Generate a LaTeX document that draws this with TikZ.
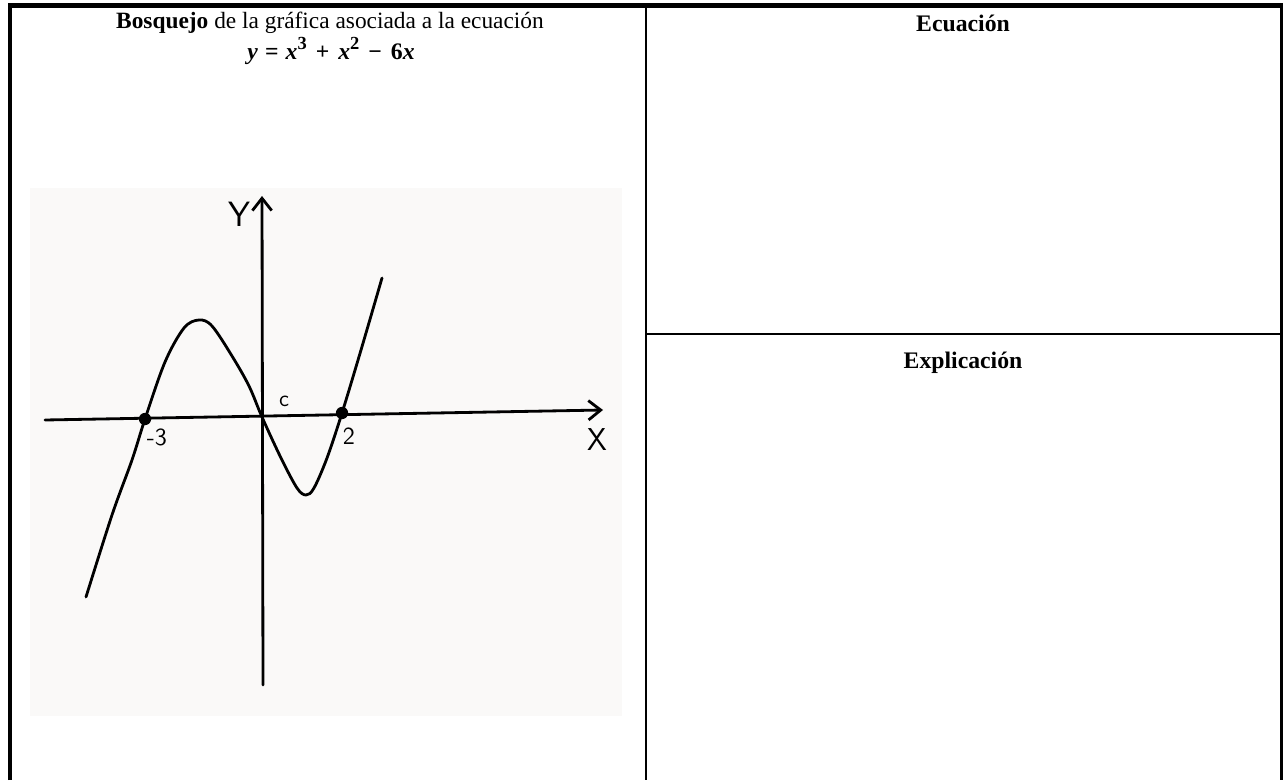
\documentclass[tikz,border=0pt]{standalone}
\usepackage{fontspec}
\setmainfont{Liberation Serif}
\usetikzlibrary{arrows.meta}

\definecolor{scanpaper}{RGB}{250,249,248}

\begin{document}
\begin{tikzpicture}[x=0.02cm, y=-0.02cm,
    outerline/.style={line width=2.3pt},
    innerline/.style={line width=1.3pt},
    pen/.style={line width=1.6pt, line cap=round, line join=round},
    head/.style={font=\fontsize{13.5}{16}\selectfont\bfseries, inner sep=0pt},
    hand/.style={font=\sffamily, inner sep=0pt},
    root/.style={circle, fill=black, inner sep=0pt, minimum size=7pt}]
    \path[use as bounding box] (0,0) rectangle (1283,780);

    % Draw table
    \draw[outerline] (10,780) -- (10,5.5) -- (1281.5,5.5) -- (1281.5,780);
    \draw[innerline] (646,5.5) -- (646,780);
    \draw[innerline] (646,334) -- (1281.5,334);

    % Headings
    \node[inner sep=0pt, font=\fontsize{13.3}{16}\selectfont] (title) at (330,23) {\textbf{Bosquejo} de la gráfica asociada a la ecuación};
    \node[head] (eq) at (331,51) {\textit{y}\hspace{0.3em}=\hspace{0.3em}\textit{x}\raisebox{0.45em}{\fontsize{10.5}{10}\selectfont 3}\hspace{0.38em}+\hspace{0.38em}\textit{x}\raisebox{0.45em}{\fontsize{10.5}{10}\selectfont 2}\hspace{0.38em}−\hspace{0.38em}6\textit{x}};
    \node[head] (ecuacion) at (963,23) {Ecuación};
    \node[head] (explicacion) at (963,363) {Explicación};

    % Scanned sketch
    \fill[scanpaper] (30,188) rectangle (622,716);

    % Draw axes
    \coordinate (xstart) at (45,420);
    \coordinate (xend) at (603,410);
    \coordinate (ystart) at (263,685);
    \coordinate (yend) at (262,196);
    \draw[pen, -{Straight Barb[length=7pt, width=11pt, line width=1.6pt]}] (xstart) -- (xend);
    \draw[pen, -{Straight Barb[length=7pt, width=11pt, line width=1.6pt]}] (ystart) -- (yend);

    % Draw roots
    \node[root] (m3) at (145,419) {};
    \node[root] (p2) at (342,413) {};
    \coordinate (o) at (262,417);

    % Draw curve
    \draw[pen] plot[smooth, tension=0.55] coordinates {(86,597) (112,515) (132,460) (m3)
        (165,362) (184,328) (199,320) (212,326) (232,356) (249,386) (o)
        (281,458) (297,488) (306,495) (314,488) (327,458) (p2) (361,350) (382,278)};

    % Labels
    \node[hand, font=\sffamily\fontsize{20}{20}\selectfont] (ylab) at (239,214) {Y};
    \node[hand, font=\sffamily\fontsize{18}{18}\selectfont] (xlab) at (597,440) {X};
    \node[hand, font=\sffamily\fontsize{14}{14}\selectfont] (m3lab) at (157,437) {-3};
    \node[hand, font=\sffamily\fontsize{14}{14}\selectfont] (p2lab) at (349,436) {2};
    \node[hand, font=\sffamily\fontsize{13}{13}\selectfont] (olab) at (284,401) {c};
\end{tikzpicture}
\end{document}
